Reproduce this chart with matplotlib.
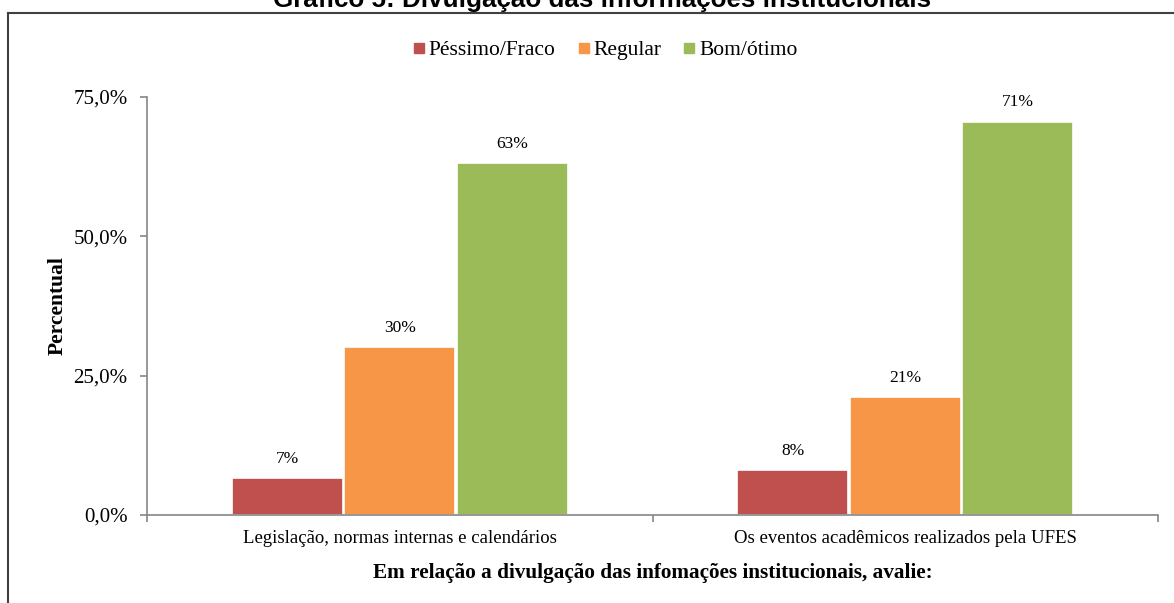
import numpy as np
import matplotlib.pyplot as plt
from matplotlib.lines import Line2D

categories = ['Legislação, normas internas e calendários',
              'Os eventos acadêmicos realizados pela UFES']
series = ['Péssimo/Fraco', 'Regular', 'Bom/ótimo']
values = [
    [6.6, 8.1],     # Péssimo/Fraco
    [30.1, 21.2],   # Regular
    [63.2, 70.6],   # Bom/ótimo
]
colors = ['#C0504D', '#F79646', '#9BBB59']
yticks = [0, 25, 50, 75]

serif = 'Liberation Serif'
axis_gray = '#868686'

fig = plt.figure(figsize=(11.74, 6.03), dpi=100)
ax = fig.add_axes([147 / 1174, 1 - 515 / 603, 1011 / 1174, 418 / 603])

x = np.arange(len(categories))
width = 0.22
step = 0.2225
for i, (name, vals, color) in enumerate(zip(series, values, colors)):
    pos = x + (i - 1) * step
    ax.bar(pos, vals, width, color=color, edgecolor='white', linewidth=1.2,
           label=name, zorder=2)
    for px, v in zip(pos, vals):
        ax.annotate('{:.0f}%'.format(v), (px, v), xytext=(0, 8),
                    textcoords='offset points', ha='center', va='bottom',
                    family=serif, fontsize=12.5)

ax.set_xlim(-0.5, len(categories) - 0.5)
ax.set_ylim(0, 75)
ax.set_yticks(yticks)
ax.set_yticklabels(['{:.1f}%'.format(t).replace('.', ',') for t in yticks],
                   family=serif, fontsize=15)
ax.set_xticks(np.arange(len(categories) + 1) - 0.5)
ax.set_xticklabels([])
ax.set_xticks(x, minor=True)
ax.set_xticklabels(categories, minor=True, family=serif, fontsize=13.5)
ax.tick_params(axis='x', which='minor', length=0, pad=11)
ax.tick_params(axis='x', which='major', length=5, color=axis_gray, width=1.2)
ax.tick_params(axis='y', length=5, color=axis_gray, width=1.2, pad=9)

ax.spines[['right', 'top']].set_visible(False)
for s in ('left', 'bottom'):
    ax.spines[s].set_color(axis_gray)
    ax.spines[s].set_linewidth(1.2)

ax.set_ylabel('Percentual', family=serif, fontsize=15.5, fontweight='bold',
              labelpad=4)
ax.set_xlabel('Em relação a divulgação das infomações institucionais, avalie:',
              family=serif, fontsize=15.3, fontweight='bold', labelpad=11)

# Legend with small square keys
handles = [Line2D([], [], marker='s', linestyle='none', markersize=7,
                  markerfacecolor=c, markeredgecolor=c) for c in colors]
fig.legend(handles, series, loc='center', bbox_to_anchor=(604 / 1174, 1 - 50 / 603),
           ncol=3, frameon=False, prop={'family': serif, 'size': 15.5},
           handletextpad=0.05, columnspacing=0.9, handlelength=0.8)

# Outer frame (top and left visible) and clipped title above it
fig.add_artist(Line2D([8 / 1174, 8 / 1174], [0, 1 - 13 / 603],
                      color='#404040', linewidth=1.5))
fig.add_artist(Line2D([8 / 1174, 1], [1 - 13 / 603, 1 - 13 / 603],
                      color='#404040', linewidth=1.5))
fig.text(602 / 1174, 1 - 7 / 603, 'Gráfico 5: Divulgação das informações institucionais',
         ha='center', va='baseline', family='Liberation Sans',
         fontweight='bold', fontsize=18.7)

fig.savefig('out.png', dpi=100)
